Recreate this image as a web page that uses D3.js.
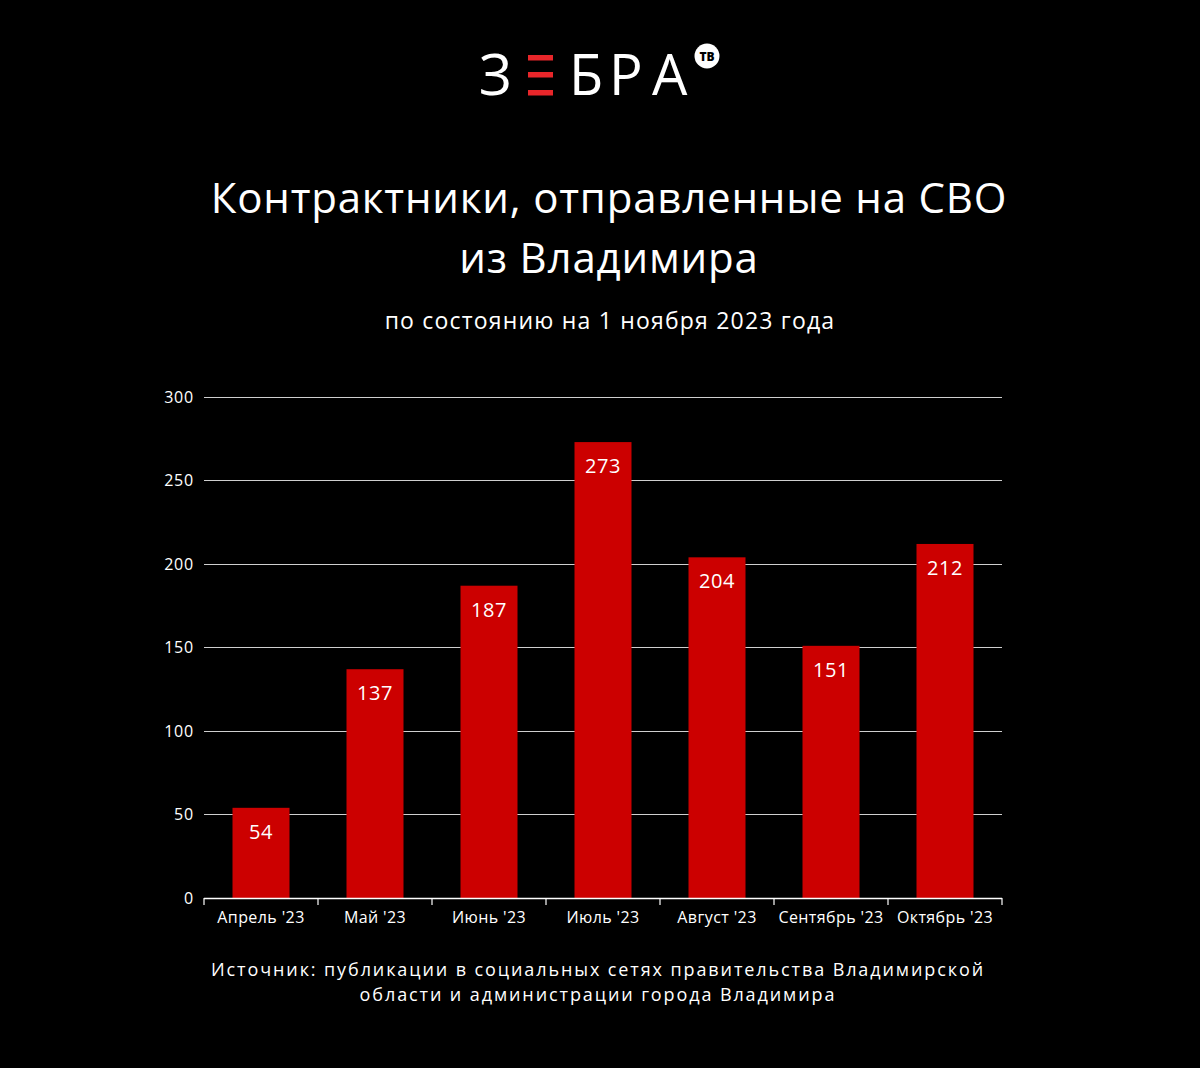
<!DOCTYPE html>
<html><head><meta charset="utf-8">
<script src="https://cdn.jsdelivr.net/npm/d3@7"></script>
<style>html,body{margin:0;padding:0;background:#000;}svg{display:block;}</style>
</head><body>
<svg id="c" width="1200" height="1068"></svg>
<script>
const categories = ["Апрель '23","Май '23","Июнь '23","Июль '23","Август '23","Сентябрь '23","Октябрь '23"];
const values = [54,137,187,273,204,151,212];
const yTicks = [0,50,100,150,200,250,300];
const titleLines = ["Контрактники, отправленные на СВО","из Владимира"];
const subtitle = "по состоянию на 1 ноября 2023 года";
const sourceLines = ["Источник: публикации в социальных сетях правительства Владимирской","области и администрации города Владимира"];

const FONT = "'Open Sans', 'Noto Sans', sans-serif";
const svg = d3.select("#c");
svg.append("rect").attr("width",1200).attr("height",1068).attr("fill","#000");

// Logo
const logo = svg.append("g").attr("font-family",FONT).attr("font-size",56).attr("font-weight",500).attr("fill","#fff");
logo.append("text").attr("x",479).attr("y",95).text("З");
[55,72,90].forEach(yy=>logo.append("rect").attr("x",528).attr("y",yy).attr("width",25).attr("height",5.5).attr("fill","#e8262a"));
[["Б",569],["Р",609],["А",652]].forEach(([t,xx])=>logo.append("text").attr("x",xx).attr("y",95).text(t));
logo.append("circle").attr("cx",707).attr("cy",56).attr("r",12.5).attr("fill","#fff");
logo.append("text").attr("x",707).attr("y",60.5).attr("text-anchor","middle").attr("fill","#000")
  .attr("font-size",12).attr("font-weight",800).text("ТВ");

// Titles
titleLines.forEach((t,i)=>svg.append("text").attr("x",609).attr("y",213+i*60).attr("text-anchor","middle")
  .attr("fill","#fff").attr("font-family",FONT).attr("font-size",42).attr("letter-spacing",0.8).attr("font-weight",500).text(t));
svg.append("text").attr("x",610).attr("y",329).attr("text-anchor","middle").attr("fill","#fff")
  .attr("font-family",FONT).attr("font-size",23).attr("letter-spacing",1.2).attr("font-weight",500).text(subtitle);

// Chart
const x = d3.scaleBand().domain(categories).range([204,1002]).paddingInner(0.5).paddingOuter(0.25);
const y = d3.scaleLinear().domain([0,300]).range([898,397]);

const grid = svg.append("g");
grid.selectAll("line").data(yTicks.filter(d=>d>0)).join("line")
  .attr("x1",204).attr("x2",1002).attr("y1",d=>y(d)).attr("y2",d=>y(d))
  .attr("stroke","#cfcfcf").attr("stroke-width",1).attr("shape-rendering","crispEdges");

const yAxis = svg.append("g").attr("transform","translate(204,0)")
  .call(d3.axisLeft(y).tickValues(yTicks).tickSize(0).tickPadding(10));
yAxis.select(".domain").remove();
yAxis.selectAll("text").attr("fill","#fff").attr("font-family",FONT).attr("font-size",16).attr("letter-spacing",0.8).attr("font-weight",500);

svg.append("g").selectAll("rect").data(values).join("rect")
  .attr("x",(d,i)=>x(categories[i])).attr("width",x.bandwidth())
  .attr("y",d=>y(d)).attr("height",d=>y(0)-y(d)).attr("fill","#cc0000");

svg.append("g").selectAll("text").data(values).join("text")
  .attr("x",(d,i)=>x(categories[i])+x.bandwidth()/2).attr("y",d=>y(d)+31)
  .attr("text-anchor","middle").attr("fill","#fff").attr("font-family",FONT)
  .attr("font-size",20).attr("letter-spacing",0.5).attr("font-weight",500).text(d=>d);

// x axis line & ticks at band boundaries
const xa = svg.append("g");
xa.append("line").attr("x1",204).attr("x2",1002).attr("y1",898.5).attr("y2",898.5).attr("stroke","#fff").attr("stroke-width",1.5);
const step = x.step();
const bounds = d3.range(categories.length+1).map(i=>204+i*step);
xa.selectAll("line.t").data(bounds).join("line").attr("class","t")
  .attr("x1",d=>d).attr("x2",d=>d).attr("y1",898).attr("y2",905).attr("stroke","#fff").attr("stroke-width",1.2);
xa.selectAll("text").data(categories).join("text")
  .attr("x",d=>x(d)+x.bandwidth()/2).attr("y",923).attr("text-anchor","middle")
  .attr("fill","#fff").attr("font-family",FONT).attr("font-size",16).attr("letter-spacing",0.4).attr("font-weight",500).text(d=>d);

// Source
sourceLines.forEach((t,i)=>svg.append("text").attr("x",598).attr("y",976+i*25).attr("text-anchor","middle")
  .attr("fill","#fff").attr("font-family",FONT).attr("font-size",18).attr("letter-spacing",1.9).attr("font-weight",500).text(t));
</script>
</body></html>
